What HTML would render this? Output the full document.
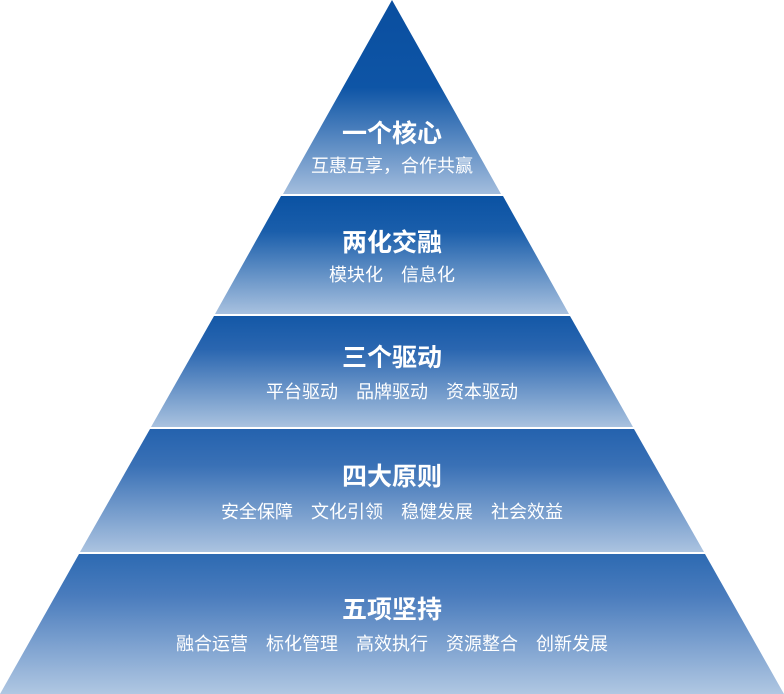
<!DOCTYPE html>
<html><head><meta charset="utf-8"><style>
html,body{margin:0;padding:0;background:#fff;}
svg{display:block}
text{font-family:"Liberation Sans","Noto Sans CJK SC",sans-serif;fill:#fff;text-anchor:middle;white-space:pre}
.t{font-size:25px;font-weight:bold}
.s{font-size:18px}
</style></head><body>
<svg width="784" height="694" viewBox="0 0 784 694" xmlns="http://www.w3.org/2000/svg">
<defs>
<linearGradient id="g1" x1="0" y1="0" x2="0" y2="1"><stop offset="0" stop-color="#0a4e9f"/><stop offset="0.45" stop-color="#0e55a6"/><stop offset="1" stop-color="#a3bddd"/></linearGradient>
<linearGradient id="g2" x1="0" y1="0" x2="0" y2="1"><stop offset="0" stop-color="#0a52a3"/><stop offset="0.3" stop-color="#1a5eab"/><stop offset="1" stop-color="#a8c1df"/></linearGradient>
<linearGradient id="g3" x1="0" y1="0" x2="0" y2="1"><stop offset="0" stop-color="#1458a7"/><stop offset="0.3" stop-color="#2a66b0"/><stop offset="1" stop-color="#a9c2df"/></linearGradient>
<linearGradient id="g4" x1="0" y1="0" x2="0" y2="1"><stop offset="0" stop-color="#2462ae"/><stop offset="0.3" stop-color="#3a71b6"/><stop offset="1" stop-color="#abc3e0"/></linearGradient>
<linearGradient id="g5" x1="0" y1="0" x2="0" y2="1"><stop offset="0" stop-color="#2d6ab2"/><stop offset="0.3" stop-color="#4a7cbd"/><stop offset="1" stop-color="#b0c7e2"/></linearGradient>
</defs>
<polygon points="392,0 501,194 283,194" fill="url(#g1)"/>
<polygon points="281,196 503,196 569,314 215,314" fill="url(#g2)"/>
<polygon points="214,316 570,316 633,427 151,427" fill="url(#g3)"/>
<polygon points="150,429 634,429 704,552 80,552" fill="url(#g4)"/>
<polygon points="79,554 705,554 784,694 0,694" fill="url(#g5)"/>
<text class="t" x="392" y="142">一个核心</text>
<text class="s" x="392" y="172">互惠互享，合作共赢</text>
<text class="t" x="392" y="251">两化交融</text>
<text class="s" x="392" y="281">模块化　信息化</text>
<text class="t" x="392" y="366">三个驱动</text>
<text class="s" x="392" y="398">平台驱动　品牌驱动　资本驱动</text>
<text class="t" x="392" y="485">四大原则</text>
<text class="s" x="392" y="518">安全保障　文化引领　稳健发展　社会效益</text>
<text class="t" x="392" y="618">五项坚持</text>
<text class="s" x="392" y="650">融合运营　标化管理　高效执行　资源整合　创新发展</text>
</svg>
</body></html>
